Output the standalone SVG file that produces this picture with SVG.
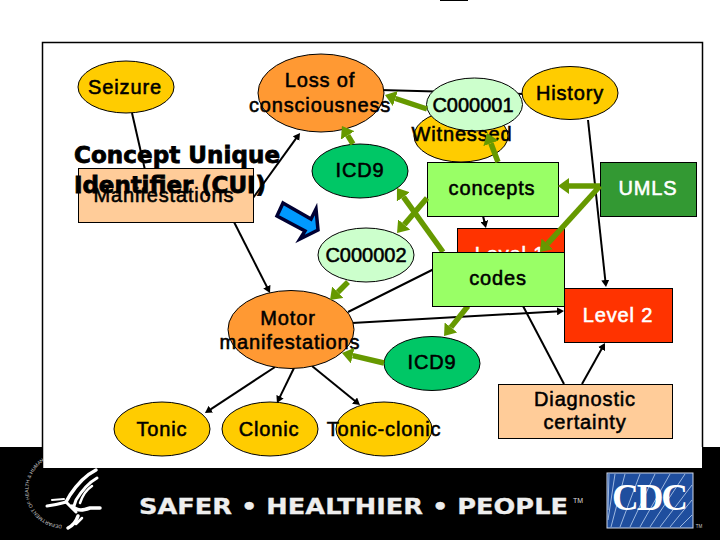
<svg xmlns="http://www.w3.org/2000/svg" width="720" height="540" viewBox="0 0 720 540">
<style>
text{font-family:"Liberation Sans",Arial,sans-serif;font-size:20px;font-weight:400;letter-spacing:.85px;fill:#000;stroke:#000;stroke-width:.55px;text-anchor:middle}
.n{stroke:#000;stroke-width:1}
.o{fill:#FF9933}.y{fill:#FFCC00}.g{fill:#00C766}.p{fill:#CCFFCC}.l{fill:#99FF66}.r{fill:#FF3300}.c{fill:#FFCC99}.u{fill:#339933}
text.w{fill:#fff;stroke:#fff}
text.d{letter-spacing:0}
.k line{stroke:#000;stroke-width:2}
.v line{stroke:#669900;stroke-width:5.5}
text.big{font-family:"DejaVu Sans",Verdana,sans-serif;font-size:23px;font-weight:700;letter-spacing:0;stroke-width:.8px;text-anchor:start}
text.small{font-size:5px;letter-spacing:0;stroke:none;text-anchor:start;fill:#ccc}
</style>
<defs>
<marker id="ka" markerUnits="userSpaceOnUse" markerWidth="8" markerHeight="8" refX="3" refY="4" orient="auto"><path d="M0 0L7 4L0 8z" fill="#000"/></marker>
<marker id="ga" markerUnits="userSpaceOnUse" markerWidth="12" markerHeight="16" refX="0" refY="8" orient="auto"><path d="M0 0L11 8L0 16z" fill="#669900"/></marker>
</defs>
<rect width="720" height="540" fill="#fff"/>
<path d="M440 .5H468" stroke="#000" stroke-width="1"/>
<path d="M0 447H42V468H702V447H720V540H0z" fill="#000"/>
<path d="M42.500 468V42.500H702.500V447" fill="none" stroke="#000" stroke-width="1.500"/>

<g id="black-connectors" class="k">
<line x1="132" y1="113" x2="145" y2="170"/>
<line x1="253" y1="198" x2="297.700" y2="136.200" marker-end="url(#ka)"/>
<line x1="234" y1="222" x2="268.200" y2="289.400" marker-end="url(#ka)"/>
<line x1="275" y1="367" x2="208.300" y2="410.800" marker-end="url(#ka)"/>
<line x1="294" y1="368" x2="278.700" y2="399.400" marker-end="url(#ka)"/>
<line x1="312" y1="366" x2="356.900" y2="402.500" marker-end="url(#ka)"/>
<line x1="348" y1="312" x2="434" y2="269"/>
<line x1="352" y1="323" x2="560" y2="311.200" marker-end="url(#ka)"/>
<line x1="380" y1="90" x2="524" y2="94"/>
<line x1="588" y1="120" x2="605.600" y2="283" marker-end="url(#ka)"/>
<line x1="483" y1="216" x2="485" y2="224" marker-end="url(#ka)"/>
<line x1="523" y1="306" x2="564" y2="384"/>
<line x1="582" y1="384" x2="603" y2="346.500" marker-end="url(#ka)"/>
</g>

<g id="seizure"><ellipse class="n y" cx="126" cy="87" rx="48" ry="26"/><text x="125" y="94">Seizure</text></g>
<g id="loss"><ellipse class="n o" cx="321" cy="93" rx="63" ry="39"/><text x="320" y="87">Loss of</text><text x="320" y="112">consciousness</text></g>
<g id="manifestations"><rect class="n c" x="78.500" y="168.500" width="175" height="54"/></g>
<g id="cui-label"><text class="big" x="74" y="163" textLength="206">Concept Unique</text><text class="big" x="74" y="193" textLength="192">Identifier (CUI)</text><text x="164" y="202">Manifestations</text></g>
<g id="icd9-top"><ellipse class="n g" cx="360" cy="171" rx="48" ry="27"/><text x="360" y="177">ICD9</text></g>
<g id="witnessed"><ellipse class="n y" cx="461" cy="136" rx="47" ry="26"/></g>
<g id="c000001"><ellipse class="n p" cx="474.500" cy="104.500" rx="48" ry="26.500"/><text class="d" x="473" y="112">C000001</text></g>
<g id="witnessed-label"><text x="462" y="141">Witnessed</text></g>
<g id="history"><ellipse class="n y" cx="570" cy="93" rx="48" ry="26.500"/><text x="570" y="100">History</text></g>
<g id="concepts"><rect class="n l" x="427.500" y="162.500" width="131" height="54"/><text x="492" y="195">concepts</text></g>
<g id="umls"><rect class="n u" x="600.500" y="162.500" width="96" height="54"/><text class="w" x="648" y="195">UMLS</text></g>
<g id="c000002"><ellipse class="n p" cx="366" cy="255" rx="48" ry="27"/><text class="d" x="366" y="262">C000002</text></g>
<g id="level1"><rect class="n r" x="457.500" y="228.500" width="107" height="54"/><text class="w" x="510" y="261">Level 1</text></g>
<g id="level2"><rect class="n r" x="564.500" y="288.500" width="108" height="54"/><text class="w" x="618" y="322">Level 2</text></g>
<g id="motor"><ellipse class="n o" cx="291" cy="329.500" rx="63" ry="39"/><text x="288" y="325">Motor</text><text x="290" y="349">manifestations</text></g>
<g id="icd9-low"><ellipse class="n g" cx="432" cy="363.500" rx="48" ry="27"/><text x="432" y="369">ICD9</text></g>
<g id="tonic"><ellipse class="n y" cx="162" cy="429" rx="48" ry="27"/><text x="162" y="436">Tonic</text></g>
<g id="clonic"><ellipse class="n y" cx="270" cy="429" rx="48" ry="27"/><text x="269" y="436">Clonic</text></g>
<g id="tonic-clonic"><ellipse class="n y" cx="384" cy="429" rx="48" ry="27"/><text x="384" y="436">Tonic-clonic</text></g>
<g id="diagnostic"><rect class="n c" x="498.500" y="384.500" width="174" height="54"/><text x="585" y="406">Diagnostic</text><text x="585" y="429">certainty</text></g>

<g id="green-connectors" class="v">
<line x1="427" y1="109" x2="395.400" y2="98.500" marker-end="url(#ga)"/>
<line x1="498" y1="162" x2="490.900" y2="143.300" marker-end="url(#ga)"/>
<line x1="353" y1="144" x2="347.700" y2="135.400" marker-end="url(#ga)"/>
<line x1="427" y1="198" x2="404.200" y2="224.600" marker-end="url(#ga)"/>
<line x1="443" y1="252" x2="403.400" y2="196.900" marker-end="url(#ga)"/>
<line x1="600" y1="186" x2="569" y2="186" marker-end="url(#ga)"/>
<line x1="600" y1="186" x2="547.400" y2="243.900" marker-end="url(#ga)"/>
<line x1="348" y1="282" x2="337.800" y2="292.200" marker-end="url(#ga)"/>
<line x1="384" y1="363" x2="352.700" y2="355.600" marker-end="url(#ga)"/>
<line x1="468" y1="306" x2="450.900" y2="327.400" marker-end="url(#ga)"/>
</g>
<g id="codes"><rect class="n l" x="432.500" y="252.500" width="132" height="54"/><text x="498" y="285">codes</text></g>

<path id="blue-arrow" d="M283 203L311 219L316 209L318 230L300 239L305 231L277 216z" fill="#0099FF" stroke="#000033" stroke-width="3.500" stroke-linejoin="miter"/>

<g id="hhs-logo">
<path id="seal" d="M62 525A35 35 0 0 1 44 461" fill="none"/>
<text class="small"><textPath href="#seal">DEPARTMENT OF HEALTH &amp; HUMAN</textPath></text>
<g fill="none" stroke="#fff" stroke-linecap="round" stroke-linejoin="round">
<path d="M96 470C84 476 76 486 70 495L66 502" stroke-width="3.500"/>
<path d="M97 478C88 483 81 492 76 500L74 506" stroke-width="3"/>
<path d="M92 486C86 490 82 497 80 503" stroke-width="2.500"/>
<path d="M47 506C56 505 62 503 66 502L76 512" stroke-width="3"/>
<path d="M72 506C78 512 84 510 90 508L100 508" stroke-width="3.500"/>
<path d="M52 500L64 499" stroke-width="2"/>
<path d="M78 516C76 522 72 526 68 528" stroke-width="3.500"/>
<path d="M82 518L76 524" stroke-width="2.500"/>
</g>
</g>
<text id="slogan" x="139" y="514" textLength="429" lengthAdjust="spacingAndGlyphs" style="font-family:'DejaVu Sans',Verdana,sans-serif;font-size:22px;font-weight:700;letter-spacing:0;fill:#eee;stroke:#eee;stroke-width:.3px;text-anchor:start">SAFER • HEALTHIER • PEOPLE</text>
<text x="578" y="503" style="font-size:7px;letter-spacing:0;fill:#ddd;stroke:none">TM</text>
<g id="cdc-logo">
<rect x="607" y="473" width="86" height="55" fill="#1F4E9E" stroke="#cfd8ea" stroke-width="1"/>
<g stroke="#9db8e0" stroke-width="1" fill="none">
<path d="M611 527L625 474M620 527L640 474M630 527L655 474M640 527L670 474M650 527L685 474M660 527L692 485M670 527L692 500M680 527L692 515M608 520L615 474M608 510L609 474"/>
</g>
<text x="650" y="510" textLength="76" style="font-family:'Liberation Serif',serif;font-size:37px;font-weight:700;letter-spacing:0;fill:#fff;stroke:none;text-anchor:middle">CDC</text>
<text x="699" y="528" style="font-size:4.500px;letter-spacing:0;fill:#ccc;stroke:none">TM</text>
</g>
</svg>
